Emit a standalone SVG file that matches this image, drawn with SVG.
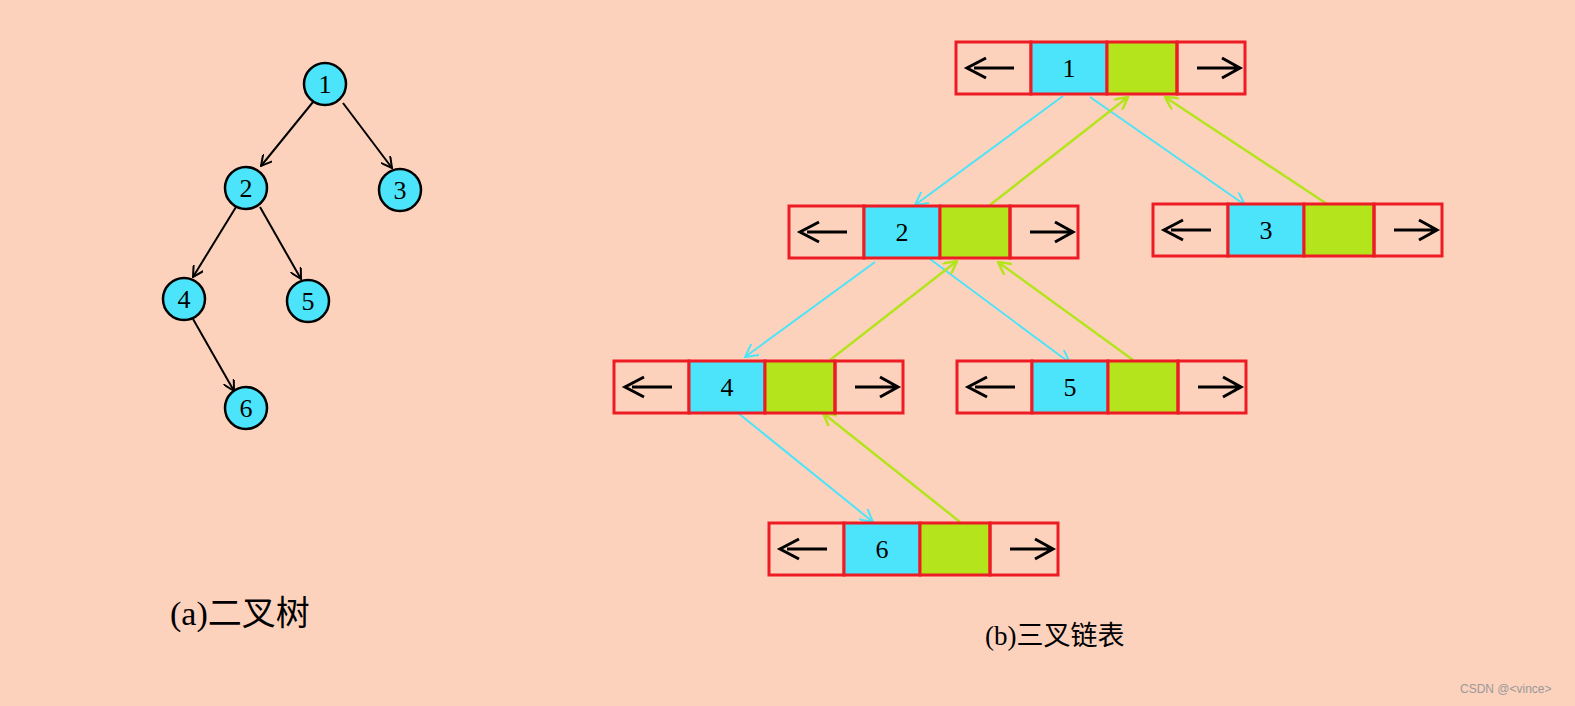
<svg xmlns="http://www.w3.org/2000/svg" width="1575" height="706" viewBox="0 0 1575 706">
<defs>
<marker id="ab" viewBox="0 0 12 12" refX="11" refY="6" markerWidth="12" markerHeight="12" markerUnits="userSpaceOnUse" orient="auto"><path d="M0,0 L11,6 L0,12" fill="none" stroke="#000" stroke-width="2"/></marker>
<marker id="ac" viewBox="0 0 14 14" refX="13" refY="7" markerWidth="14" markerHeight="14" markerUnits="userSpaceOnUse" orient="auto"><path d="M0,0 L13,7 L0,14" fill="none" stroke="#4be4f9" stroke-width="2"/></marker>
<marker id="ag" viewBox="0 0 14 14" refX="13" refY="7" markerWidth="14" markerHeight="14" markerUnits="userSpaceOnUse" orient="auto"><path d="M0,0 L13,7 L0,14" fill="none" stroke="#b4e41c" stroke-width="2.5"/></marker>
<g id="cell">
<rect x="0" y="0" width="75" height="52" fill="none" stroke="#ed1c24" stroke-width="3"/>
<rect x="75" y="0" width="76" height="52" fill="#4be4fb" stroke="#ed1c24" stroke-width="3"/>
<rect x="151" y="0" width="70" height="52" fill="#b4e41c" stroke="#ed1c24" stroke-width="3"/>
<rect x="221" y="0" width="68" height="52" fill="none" stroke="#ed1c24" stroke-width="3"/>
<path d="M18,26 H58 M30,16 L11,26 L30,36" fill="none" stroke="#000" stroke-width="3"/>
<path d="M241,26 H282 M266,16 L284,26 L266,36" fill="none" stroke="#000" stroke-width="3"/>
</g>
</defs>
<style>
.t{font-family:"Liberation Serif","Noto Sans CJK SC",serif;fill:#000}
.n{font-size:26px;text-anchor:middle}
.c{fill:#4be4fb;stroke:#000;stroke-width:2.5}
.bl{stroke:#000;stroke-width:2;fill:none}
.cy{stroke:#4be4f9;stroke-width:2;fill:none}
.gr{stroke:#b4e41c;stroke-width:2.5;fill:none}
</style>
<rect width="1575" height="706" fill="#fdd2bd"/>
<g id="connectors">
<line class="bl" x1="313" y1="102" x2="261" y2="166" marker-end="url(#ab)"/>
<line class="bl" x1="343" y1="103" x2="392" y2="168" marker-end="url(#ab)"/>
<line class="bl" x1="236" y1="207" x2="193" y2="277" marker-end="url(#ab)"/>
<line class="bl" x1="260" y1="207" x2="301" y2="279" marker-end="url(#ab)"/>
<line class="bl" x1="193" y1="319" x2="234" y2="391" marker-end="url(#ab)"/>
<line class="cy" x1="1063" y1="96" x2="915" y2="205" marker-end="url(#ac)"/>
<line class="cy" x1="1090" y1="97" x2="1245" y2="205" marker-end="url(#ac)"/>
<line class="gr" x1="990" y1="205" x2="1128" y2="97" marker-end="url(#ag)"/>
<line class="gr" x1="1327" y1="204" x2="1165" y2="97" marker-end="url(#ag)"/>
<line class="cy" x1="875" y1="262" x2="745" y2="357" marker-end="url(#ac)"/>
<line class="cy" x1="930" y1="259" x2="1070" y2="363" marker-end="url(#ac)"/>
<line class="gr" x1="830" y1="360" x2="957" y2="261" marker-end="url(#ag)"/>
<line class="gr" x1="1133" y1="360" x2="998" y2="262" marker-end="url(#ag)"/>
<line class="cy" x1="738" y1="413" x2="873" y2="522" marker-end="url(#ac)"/>
<line class="gr" x1="960" y1="522" x2="823" y2="413" marker-end="url(#ag)"/>
</g>
<g id="t1"><circle class="c" cx="325" cy="84" r="21"/><text class="t n" x="325" y="93" font-size="24">1</text></g>
<g id="t2"><circle class="c" cx="246" cy="188" r="21"/><text class="t n" x="246" y="197" font-size="24">2</text></g>
<g id="t3"><circle class="c" cx="400" cy="190" r="21"/><text class="t n" x="400" y="199" font-size="24">3</text></g>
<g id="t4"><circle class="c" cx="184" cy="299" r="21"/><text class="t n" x="184" y="308" font-size="24">4</text></g>
<g id="t5"><circle class="c" cx="308" cy="301" r="21"/><text class="t n" x="308" y="310" font-size="24">5</text></g>
<g id="t6"><circle class="c" cx="246" cy="408" r="21"/><text class="t n" x="246" y="417" font-size="24">6</text></g>
<g id="n1"><use href="#cell" x="956" y="42"/><text class="t n" x="1069" y="77">1</text></g>
<g id="n2"><use href="#cell" x="789" y="206"/><text class="t n" x="902" y="241">2</text></g>
<g id="n3"><use href="#cell" x="1153" y="204"/><text class="t n" x="1266" y="239">3</text></g>
<g id="n4"><use href="#cell" x="614" y="361"/><text class="t n" x="727" y="396">4</text></g>
<g id="n5"><use href="#cell" x="957" y="361"/><text class="t n" x="1070" y="396">5</text></g>
<g id="n6"><use href="#cell" x="769" y="523"/><text class="t n" x="882" y="558">6</text></g>
<text class="t" x="170" y="625" font-size="34">(a)二叉树</text>
<text class="t" x="985" y="645" font-size="27">(b)三叉链表</text>
<text x="1460" y="693" font-family="Liberation Sans,sans-serif" font-size="12" fill="#999">CSDN @&lt;vince&gt;</text>
</svg>
